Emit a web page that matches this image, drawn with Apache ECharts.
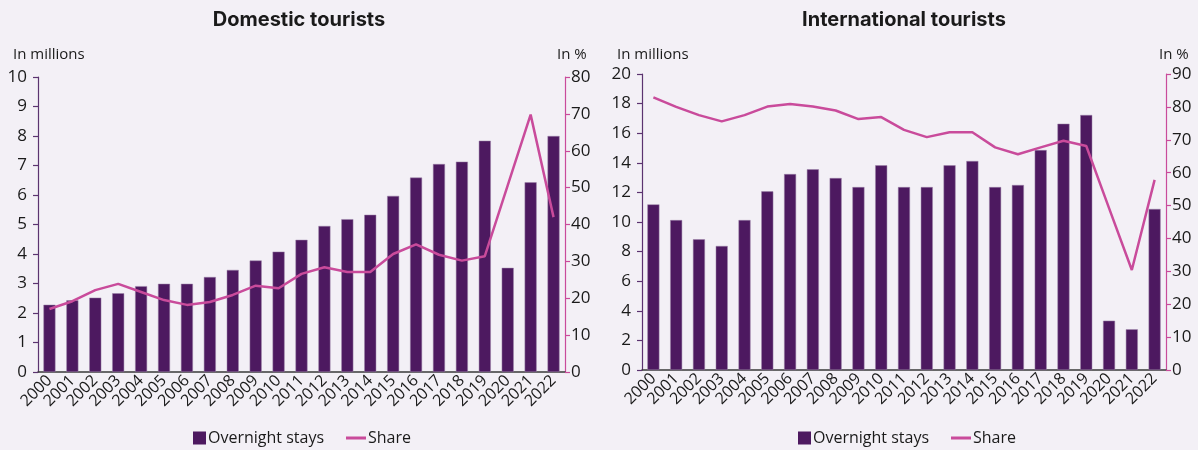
<!DOCTYPE html>
<html>
<head>
<meta charset="utf-8">
<script src="https://cdn.jsdelivr.net/npm/echarts@6/dist/echarts.min.js"></script>
<style>
  html, body { margin: 0; padding: 0; background: #f3f0f6; }
  #chart { width: 1198px; height: 450px; }
</style>
</head>
<body>
<div id="chart"></div>
<script>
// Years shown on both panels
const years = ['2000','2001','2002','2003','2004','2005','2006','2007','2008','2009','2010','2011',
               '2012','2013','2014','2015','2016','2017','2018','2019','2020','2021','2022'];

// Domestic tourists: overnight stays (millions) and share (%)
const domesticStays = [2.28, 2.43, 2.52, 2.67, 2.91, 2.99, 2.99, 3.22, 3.46, 3.78, 4.08, 4.48,
                       4.95, 5.18, 5.33, 5.97, 6.59, 7.05, 7.13, 7.84, 3.53, 6.43, 8.0];
const domesticShare = [17.1, 19.2, 22.2, 23.9, 21.7, 19.5, 18.2, 19.0, 20.9, 23.4, 22.7, 26.6,
                       28.4, 27.1, 27.1, 32.0, 34.6, 31.8, 30.2, 31.4, 50.6, 69.8, 42.0];

// International tourists: overnight stays (millions) and share (%)
const internationalStays = [11.19, 10.13, 8.83, 8.38, 10.13, 12.07, 13.24, 13.56, 12.97, 12.36, 13.83, 12.36,
                            12.36, 13.83, 14.12, 12.36, 12.5, 14.86, 16.64, 17.23, 3.33, 2.75, 10.88];
const internationalShare = [82.9, 80.0, 77.5, 75.6, 77.5, 80.1, 80.9, 80.1, 78.9, 76.3, 76.9, 73.0,
                            70.8, 72.3, 72.3, 67.7, 65.6, 67.7, 69.7, 68.1, 49.2, 30.4, 57.8];

// Panel titles, unit labels and legend entries
const panelTitles = ['Domestic tourists', 'International tourists'];
const unitLeft = 'In millions';
const unitRight = 'In %';
const staysName = 'Overnight stays';
const shareName = 'Share';

const BAR = '#4d1960';
const LINE = '#c94b9b';
const TEXT = '#1a1a1a';
const FONT = '"Open Sans", "Noto Sans", sans-serif';

const chart = echarts.init(document.getElementById('chart'), null, { renderer: 'canvas' });

function valueAxis(gridIndex, max, interval, position, color) {
  return {
    type: 'value', gridIndex, min: 0, max, interval, position,
    splitLine: { show: false },
    axisLine: { show: true, lineStyle: { color, width: 1.2 } },
    axisTick: { show: true, length: 5, lineStyle: { color, width: 1.2 } },
    axisLabel: { color: TEXT, fontSize: 17, fontFamily: FONT, margin: position === 'left' ? 11 : 6 }
  };
}

function categoryAxis(gridIndex) {
  return {
    type: 'category', gridIndex, data: years,
    axisLine: { show: true, lineStyle: { color: '#3a3a3a', width: 1.5 } },
    axisTick: { show: false },
    axisLabel: { color: TEXT, fontSize: 16, fontFamily: FONT, rotate: 45, margin: 6, interval: 0 }
  };
}

const titleStyle = { color: TEXT, fontSize: 20, fontWeight: 'bold', fontFamily: 'Inter, "Noto Sans", sans-serif' };
const unitStyle = { color: TEXT, fontSize: 15, fontWeight: 'normal', fontFamily: FONT };

function legendPair(staysLeft, shareLeft) {
  const text = { color: TEXT, fontSize: 16, fontFamily: FONT };
  return [
    { data: [staysName], left: staysLeft, top: 425, icon: 'rect', itemWidth: 13, itemHeight: 13,
      itemGap: 0, itemStyle: { borderWidth: 0 },
      textStyle: Object.assign({ padding: [0, 0, 0, -3] }, text), selectedMode: false },
    { data: [shareName], left: shareLeft, top: 425, icon: 'rect', itemWidth: 20, itemHeight: 3,
      itemGap: 0, textStyle: Object.assign({ padding: [0, 0, 0, -3] }, text), selectedMode: false }
  ];
}

const option = {
  backgroundColor: '#f3f0f6',
  animation: false,
  title: [
    { text: panelTitles[0], left: 294, top: 5, textAlign: 'center', textStyle: titleStyle },
    { text: panelTitles[1], left: 899, top: 5, textAlign: 'center', textStyle: titleStyle },
    { text: unitLeft, left: 8, top: 42, textStyle: unitStyle },
    { text: unitRight, left: 552, top: 42, textStyle: unitStyle },
    { text: unitLeft, left: 612, top: 42, textStyle: unitStyle },
    { text: unitRight, left: 1154, top: 42, textStyle: unitStyle }
  ],
  legend: [].concat(legendPair(188, 341), legendPair(793, 946)),
  grid: [
    { left: 38, right: 633, top: 77, bottom: 78 },
    { left: 642, right: 32, top: 74, bottom: 80 }
  ],
  xAxis: [categoryAxis(0), categoryAxis(1)],
  yAxis: [
    valueAxis(0, 10, 1, 'left', '#5b3370'),
    valueAxis(0, 80, 10, 'right', LINE),
    valueAxis(1, 20, 2, 'left', '#5b3370'),
    valueAxis(1, 90, 10, 'right', LINE)
  ],
  series: [
    { name: staysName, type: 'bar', xAxisIndex: 0, yAxisIndex: 0, data: domesticStays,
      barWidth: 12, itemStyle: { color: BAR, borderColor: '#9d84a8', borderWidth: 0.5 } },
    { name: shareName, type: 'line', xAxisIndex: 0, yAxisIndex: 1, data: domesticShare,
      showSymbol: false, symbol: 'none', lineStyle: { color: LINE, width: 2.5 }, itemStyle: { color: LINE } },
    { name: staysName, type: 'bar', xAxisIndex: 1, yAxisIndex: 2, data: internationalStays,
      barWidth: 12, itemStyle: { color: BAR, borderColor: '#9d84a8', borderWidth: 0.5 } },
    { name: shareName, type: 'line', xAxisIndex: 1, yAxisIndex: 3, data: internationalShare,
      showSymbol: false, symbol: 'none', lineStyle: { color: LINE, width: 2.5 }, itemStyle: { color: LINE } }
  ]
};

chart.setOption(option);
</script>
</body>
</html>
